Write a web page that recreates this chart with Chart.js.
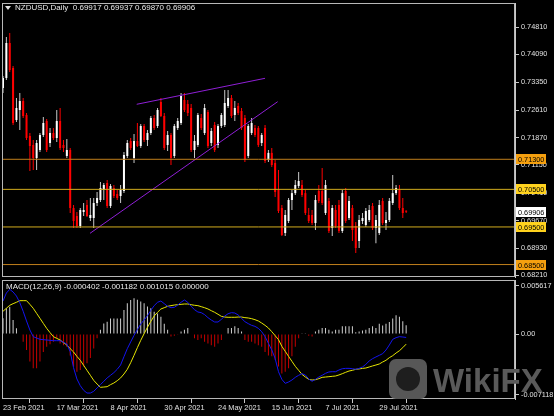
<!DOCTYPE html>
<html lang="en">
<head>
<meta charset="UTF-8" />
<title>NZDUSD Daily</title>
<script src="https://cdn.jsdelivr.net/npm/chart.js@4.4.0/dist/chart.umd.min.js"></script>
<style>
  body { margin: 0; background: #000; }
  #wrap { position: relative; width: 554px; height: 416px; background: #000; overflow: hidden; font-family: 'Liberation Sans', Arial, sans-serif; }
  #priceChart { position: absolute; left: 0; top: 0; }
  #macdChart { position: absolute; left: 0; top: 278px; }
  .txt { position: absolute; color: #e8e8e8; font-size: 8px; line-height: 10px; white-space: pre; }
  #title { left: 15px; top: 3px; }
  #arrow { position: absolute; left: 5px; top: 6px; width: 0; height: 0; border-left: 3px solid transparent; border-right: 3px solid transparent; border-top: 4px solid #e0e0e0; }
  #macdTitle { left: 6px; top: 282px; }
  #logoIcon { position: absolute; left: 389px; top: 359px; width: 38px; height: 40px; border-radius: 7px; background: #575757; }
  #logoIcon div { position: absolute; left: 7px; top: 8px; width: 24px; height: 24px; border-radius: 50%; background: #1e1e1e; }
  #logoText { position: absolute; left: 433px; top: 364px; font-size: 33px; line-height: 33px; font-weight: bold; color: #5a5a5a; }
</style>
</head>
<body>
<div id="wrap">
  <canvas id="priceChart" width="554" height="279"></canvas>
  <canvas id="macdChart" width="554" height="138"></canvas>
  <div id="arrow"></div>
  <div class="txt" id="title"></div>
  <div class="txt" id="macdTitle"></div>
  <div id="logoIcon"><div></div></div>
  <div id="logoText">WikiFX</div>
</div>

<script>
  // daily candles, 23 Feb 2021 .. 10 Aug 2021 (bar index = trading day)
  const open = [
    0.73196,0.73462,0.74393,0.73728,0.72345,0.72611,0.72850,0.72478,0.71919,0.71680,
    0.71334,0.71547,0.71946,0.72318,0.71733,0.71999,0.71866,0.72318,0.71680,0.71387,
    0.71547,0.70004,0.69791,0.69525,0.69898,0.70084,0.69738,0.69738,0.70137,0.70217,
    0.70483,0.70669,0.70057,0.70536,0.70377,0.70323,0.70456,0.71387,0.71786,0.71334,
    0.71786,0.71653,0.72185,0.71813,0.71999,0.72398,0.72185,0.72824,0.72451,0.71680,
    0.71946,0.71387,0.72132,0.72265,0.72877,0.72770,0.72664,0.71547,0.71680,0.72398,
    0.71999,0.72558,0.71733,0.72212,0.71680,0.72185,0.72212,0.72717,0.72930,0.72478,
    0.72717,0.72584,0.72398,0.71387,0.71999,0.72132,0.72132,0.71733,0.72132,0.71281,
    0.71470,0.71201,0.70483,0.70004,0.69339,0.69658,0.70217,0.70400,0.70590,0.70616,
    0.70400,0.69818,0.69818,0.69605,0.70456,0.70456,0.69871,0.70190,0.69472,0.69951,
    0.70084,0.69392,0.70456,0.69738,0.70004,0.69525,0.69126,0.69658,0.69552,0.69685,
    0.70057,0.69472,0.69339,0.70190,0.69605,0.69685,0.70137,0.70400,0.70483,0.70004,
    0.69917];
  const high = [
    0.73515,0.74553,0.74659,0.73781,0.72930,0.73063,0.72930,0.72531,0.71999,0.71813,
    0.71813,0.71999,0.72425,0.72372,0.72132,0.72132,0.72611,0.72664,0.71813,0.71840,
    0.71600,0.70084,0.69898,0.70004,0.70137,0.70217,0.70270,0.70270,0.70430,0.70696,
    0.70669,0.70749,0.70643,0.70616,0.70483,0.70616,0.71494,0.71813,0.71866,0.71973,
    0.72265,0.72239,0.72239,0.72079,0.72451,0.72478,0.72664,0.72930,0.72531,0.72052,
    0.71999,0.72239,0.72398,0.73063,0.73063,0.72877,0.72770,0.71946,0.72531,0.72505,
    0.72770,0.72611,0.72132,0.72292,0.72239,0.72531,0.73143,0.73143,0.73010,0.72850,
    0.72797,0.72664,0.72478,0.72239,0.72398,0.72212,0.72185,0.71999,0.72212,0.71547,
    0.71600,0.71281,0.71017,0.70084,0.69951,0.70270,0.70483,0.70749,0.70962,0.70749,
    0.70483,0.70004,0.69951,0.70350,0.70616,0.71068,0.70749,0.70270,0.70084,0.70084,
    0.70217,0.70483,0.70536,0.70323,0.70084,0.69632,0.69818,0.69871,0.70004,0.70084,
    0.70137,0.69818,0.70217,0.70270,0.69898,0.70270,0.70882,0.70616,0.70616,0.70270,
    0.69937];
  const low = [
    0.73063,0.73409,0.73622,0.72212,0.72292,0.72079,0.72398,0.71813,0.70989,0.71017,
    0.71017,0.71494,0.71893,0.71494,0.71627,0.71813,0.71760,0.71547,0.71494,0.71334,
    0.69871,0.69472,0.69472,0.69472,0.69791,0.69765,0.69658,0.69472,0.70057,0.70164,
    0.70217,0.70004,0.70004,0.70270,0.70217,0.70137,0.70403,0.71334,0.71547,0.71201,
    0.71627,0.71600,0.71759,0.71653,0.71946,0.72079,0.72132,0.72425,0.71547,0.71521,
    0.71148,0.71334,0.72079,0.72212,0.72558,0.72451,0.71494,0.71334,0.71627,0.72079,
    0.71946,0.71600,0.71653,0.71494,0.71600,0.72132,0.72159,0.72664,0.72398,0.72318,
    0.72478,0.72079,0.71228,0.71334,0.71946,0.71893,0.71627,0.71653,0.71201,0.71228,
    0.71095,0.70300,0.69871,0.69261,0.69261,0.69605,0.69951,0.70350,0.70536,0.70300,
    0.69818,0.69605,0.69552,0.69419,0.70137,0.70084,0.69818,0.69339,0.69261,0.69472,
    0.69339,0.69339,0.69605,0.69685,0.69126,0.68807,0.68940,0.69579,0.69499,0.69632,
    0.69419,0.69067,0.69286,0.69552,0.69419,0.69632,0.70084,0.70350,0.69951,0.69738,
    0.69870];
  const close = [
    0.73462,0.74393,0.73675,0.72265,0.72664,0.72850,0.72451,0.71866,0.71653,0.71334,
    0.71733,0.71946,0.72265,0.71547,0.71999,0.71866,0.72318,0.71600,0.71600,0.71547,
    0.70004,0.69658,0.69525,0.69951,0.69951,0.69791,0.69818,0.70137,0.70270,0.70536,
    0.70616,0.70057,0.70590,0.70323,0.70270,0.70483,0.71414,0.71733,0.71600,0.71786,
    0.71653,0.72185,0.71813,0.71999,0.72398,0.72132,0.72611,0.72451,0.71600,0.71946,
    0.71334,0.72185,0.72318,0.72983,0.72611,0.72531,0.71547,0.71786,0.72478,0.72132,
    0.72664,0.71653,0.72052,0.71547,0.72185,0.72478,0.72797,0.72930,0.72451,0.72664,
    0.72531,0.72132,0.71281,0.72185,0.72265,0.71946,0.71680,0.71946,0.71254,0.71470,
    0.71148,0.70430,0.69924,0.69286,0.69818,0.70217,0.70400,0.70616,0.70722,0.70350,
    0.69871,0.69658,0.69605,0.70217,0.70190,0.70137,0.70616,0.69392,0.70004,0.69525,
    0.69392,0.70400,0.69658,0.70190,0.69419,0.68940,0.69685,0.69738,0.69924,0.69951,
    0.69472,0.69685,0.70084,0.69605,0.69685,0.70190,0.70400,0.70536,0.70004,0.69871,
    0.69906];

  // MACD(12,26,9) panel
  const macdHist = [
    0.00183,0.00300,0.00319,0.00163,0.00066,0.00000,-0.00090,-0.00187,-0.00320,-0.00400,
    -0.00400,-0.00320,-0.00210,-0.00150,-0.00120,-0.00090,-0.00050,-0.00110,-0.00130,-0.00150,
    -0.00250,-0.00380,-0.00440,-0.00420,-0.00380,-0.00340,-0.00280,-0.00170,-0.00050,0.00050,
    0.00124,0.00143,0.00180,0.00180,0.00180,0.00180,0.00280,0.00358,0.00397,0.00416,
    0.00400,0.00380,0.00360,0.00320,0.00300,0.00260,0.00240,0.00200,0.00120,0.00050,
    -0.00030,-0.00020,-0.00010,0.00030,0.00050,0.00070,0.00000,-0.00050,-0.00070,-0.00050,
    -0.00090,-0.00110,-0.00130,-0.00150,-0.00110,-0.00070,0.00000,0.00070,0.00070,0.00090,
    0.00070,0.00030,-0.00070,-0.00090,-0.00090,-0.00110,-0.00130,-0.00150,-0.00210,-0.00250,
    -0.00260,-0.00300,-0.00380,-0.00460,-0.00440,-0.00400,-0.00260,-0.00150,-0.00050,0.00010,
    0.00010,-0.00020,-0.00030,0.00030,0.00050,0.00070,0.00070,0.00050,0.00030,0.00050,
    0.00050,0.00090,0.00090,0.00090,0.00090,0.00020,0.00030,0.00040,0.00050,0.00070,
    0.00090,0.00070,0.00120,0.00100,0.00120,0.00140,0.00180,0.00220,0.00200,0.00150,
    0.001015];
  const macdMain = [
    0.00385,0.00478,0.00521,0.00490,0.00443,0.00366,0.00265,0.00152,0.00047,-0.00031,
    -0.00047,-0.00062,-0.00066,-0.00070,-0.00074,-0.00078,-0.00078,-0.00078,-0.00097,-0.00117,
    -0.00206,-0.00393,-0.00525,-0.00603,-0.00657,-0.00689,-0.00689,-0.00669,-0.00630,-0.00591,
    -0.00552,-0.00513,-0.00482,-0.00451,-0.00412,-0.00362,-0.00265,-0.00171,-0.00093,-0.00016,
    0.00051,0.00117,0.00163,0.00214,0.00276,0.00331,0.00370,0.00385,0.00354,0.00323,
    0.00307,0.00311,0.00338,0.00370,0.00397,0.00370,0.00323,0.00284,0.00257,0.00249,
    0.00226,0.00191,0.00163,0.00140,0.00140,0.00171,0.00210,0.00237,0.00249,0.00245,
    0.00222,0.00183,0.00144,0.00121,0.00101,0.00089,0.00066,0.00027,-0.00031,-0.00109,
    -0.00187,-0.00284,-0.00440,-0.00529,-0.00576,-0.00560,-0.00537,-0.00506,-0.00482,-0.00463,
    -0.00478,-0.00525,-0.00552,-0.00529,-0.00502,-0.00482,-0.00459,-0.00443,-0.00440,-0.00440,
    -0.00420,-0.00405,-0.00401,-0.00401,-0.00405,-0.00412,-0.00401,-0.00385,-0.00354,-0.00315,
    -0.00288,-0.00268,-0.00249,-0.00230,-0.00187,-0.00128,-0.00062,-0.00043,-0.00031,-0.00035,
    -0.000402];
  const macdSignal = [
    0.00265,0.00300,0.00335,0.00354,0.00370,0.00389,0.00389,0.00389,0.00346,0.00300,
    0.00241,0.00183,0.00124,0.00066,0.00016,-0.00031,-0.00051,-0.00070,-0.00101,-0.00128,
    -0.00171,-0.00210,-0.00261,-0.00307,-0.00366,-0.00424,-0.00482,-0.00541,-0.00584,-0.00622,
    -0.00619,-0.00615,-0.00591,-0.00572,-0.00545,-0.00513,-0.00467,-0.00412,-0.00335,-0.00249,
    -0.00159,-0.00074,0.00004,0.00078,0.00148,0.00210,0.00253,0.00292,0.00307,0.00323,
    0.00331,0.00338,0.00342,0.00346,0.00350,0.00350,0.00342,0.00335,0.00331,0.00319,
    0.00307,0.00292,0.00272,0.00253,0.00230,0.00206,0.00198,0.00195,0.00195,0.00195,
    0.00198,0.00198,0.00191,0.00187,0.00179,0.00167,0.00152,0.00128,0.00101,0.00070,
    0.00027,-0.00019,-0.00066,-0.00144,-0.00202,-0.00261,-0.00319,-0.00377,-0.00424,-0.00471,
    -0.00502,-0.00529,-0.00537,-0.00533,-0.00521,-0.00506,-0.00502,-0.00498,-0.00494,-0.00490,
    -0.00478,-0.00463,-0.00447,-0.00432,-0.00424,-0.00412,-0.00408,-0.00401,-0.00397,-0.00385,
    -0.00373,-0.00362,-0.00350,-0.00327,-0.00307,-0.00276,-0.00253,-0.00222,-0.00195,-0.00159,
    -0.001182];
  const macdZeroLevel = 0.000000;

  // axis ticks
  const priceTicks = [0.74810, 0.74090, 0.73350, 0.72610, 0.71870, 0.71150, 0.70410, 0.69670, 0.68930, 0.68210];
  const macdTicks = [0.005617, 0, -0.007118];
  const macdTickText = ['0.005617', '0.00', '-0.007118'];
  const dateTickIdx = [0, 16, 32, 48, 64, 80, 96, 112];
  const dateTickText = ['23 Feb 2021', '17 Mar 2021', '8 Apr 2021', '30 Apr 2021', '24 May 2021', '15 Jun 2021', '7 Jul 2021', '29 Jul 2021'];

  // drawn objects: horizontal levels and the wedge trend lines [barIndex, price]
  const levels = [0.71300, 0.70500, 0.69500, 0.68500];
  const upperTrend = [[39.8, 0.72763], [78.0, 0.73454]];
  const lowerTrend = [[25.9, 0.69331], [81.75, 0.72832]];

  const levelLineColor = ['#c07f1c', '#d2ac1e', '#d2ac1e', '#c07f1c'];
  const levelTagColor = ['#f5a00f', '#ffd21e', '#ffd21e', '#f5a00f'];
  const FONT = "'Liberation Sans', Arial, sans-serif";
  const X_MIN = -0.3, X_MAX = 152.4;
  const last = open.length - 1;

  document.getElementById('title').textContent =
    'NZDUSD,Daily  ' + [open[last], high[last], low[last], close[last]].map(v => v.toFixed(5)).join(' ');
  document.getElementById('macdTitle').textContent =
    'MACD(12,26,9) ' + [macdMain[last], macdSignal[last], macdHist[last]].map(v => v.toFixed(6)).join(' ') + ' ' + macdZeroLevel.toFixed(6);

  const framePlugin = {
    id: 'frame',
    afterDraw(chart) {
      const { ctx, chartArea: a } = chart;
      ctx.save();
      ctx.strokeStyle = '#b8b8b8';
      ctx.lineWidth = 1;
      ctx.strokeRect(Math.round(a.left) + 0.5, Math.round(a.top) + 0.5, Math.round(a.right - a.left) - 1, Math.round(a.bottom - a.top) - 1);
      ctx.restore();
    }
  };

  const tagPlugin = {
    id: 'tags',
    afterDraw(chart) {
      const { ctx } = chart;
      const y = chart.scales.y;
      const tags = levels.map((v, k) => ({ v, bg: levelTagColor[k] }));
      tags.push({ v: close[last], bg: '#ffffff' });
      ctx.save();
      ctx.font = '7.3px ' + FONT;
      ctx.textBaseline = 'middle';
      tags.forEach(t => {
        const py = Math.round(y.getPixelForValue(t.v));
        ctx.fillStyle = t.bg;
        ctx.fillRect(516, py - 5, 30, 10);
        ctx.fillStyle = '#000';
        ctx.fillText(t.v.toFixed(5), 518, py + 0.5);
      });
      ctx.restore();
    }
  };

  const bull = close.map((c, i) => c >= open[i]);

  new Chart(document.getElementById('priceChart'), {
    type: 'bar',
    data: {
      datasets: [
        ...levels.map((lv, k) => ({
          type: 'line', data: [{ x: X_MIN, y: lv }, { x: X_MAX, y: lv }],
          borderColor: levelLineColor[k], borderWidth: 1, pointRadius: 0
        })),
        { type: 'line', data: upperTrend.map(p => ({ x: p[0], y: p[1] })), borderColor: '#8f1fd6', borderWidth: 1, pointRadius: 0 },
        { type: 'line', data: lowerTrend.map(p => ({ x: p[0], y: p[1] })), borderColor: '#8f1fd6', borderWidth: 1, pointRadius: 0 },
        {
          data: open.map((o, i) => ({ x: i, y: [o, close[i]] })),
          backgroundColor: bull.map(b => b ? '#ffffff' : '#ff0000'),
          barThickness: 2, minBarLength: 1
        },
        {
          data: low.map((l, i) => ({ x: i, y: [l, high[i]] })),
          backgroundColor: bull.map(b => b ? '#c8c8c8' : '#ff0000'),
          barThickness: 1
        }
      ]
    },
    options: {
      responsive: false, animation: false, events: [],
      layout: { padding: { left: 2, top: 3, right: 0, bottom: 2 } },
      datasets: { bar: { grouped: false, inflateAmount: 0 } },
      plugins: { legend: { display: false }, tooltip: { enabled: false } },
      scales: {
        x: { type: 'linear', display: false, min: X_MIN, max: X_MAX, offset: false },
        y: {
          position: 'right', min: 0.681688, max: 0.754572,
          afterBuildTicks: s => { s.ticks = priceTicks.map(v => ({ value: v })); },
          afterFit: s => { s.width = 39; s.paddingTop = 0; s.paddingBottom = 0; },
          ticks: { color: '#e0e0e0', font: { size: 7.3, family: FONT }, padding: 2, callback: v => v.toFixed(5) },
          grid: { drawOnChartArea: false, color: '#c8c8c8', tickLength: 4 },
          border: { color: '#c8c8c8' }
        }
      }
    },
    plugins: [framePlugin, tagPlugin]
  });

  new Chart(document.getElementById('macdChart'), {
    type: 'bar',
    data: {
      datasets: [
        { type: 'line', data: macdMain.map((v, i) => ({ x: i, y: v })), borderColor: '#1414f0', borderWidth: 1, pointRadius: 0 },
        { type: 'line', data: macdSignal.map((v, i) => ({ x: i, y: v })), borderColor: '#e6e600', borderWidth: 1, pointRadius: 0 },
        {
          data: macdHist.map((v, i) => ({ x: i, y: v })),
          backgroundColor: macdHist.map(v => v >= 0 ? '#d0d0d0' : '#c80000'),
          barThickness: 1
        }
      ]
    },
    options: {
      responsive: false, animation: false, events: [],
      layout: { padding: { left: 2, top: 2, right: 0, bottom: 0 } },
      datasets: { bar: { grouped: false, inflateAmount: 0 } },
      plugins: { legend: { display: false }, tooltip: { enabled: false } },
      scales: {
        x: {
          type: 'linear', min: X_MIN, max: X_MAX, offset: false,
          afterBuildTicks: s => { s.ticks = dateTickIdx.map(v => ({ value: v })); },
          afterFit: s => { s.height = 17; s.paddingLeft = 0; s.paddingRight = 0; },
          ticks: { align: 'start', color: '#e0e0e0', font: { size: 7.4, family: FONT }, padding: 1, maxRotation: 0, autoSkip: false, callback: (v, i) => dateTickText[i] },
          grid: { drawOnChartArea: false, color: '#c8c8c8', tickLength: 4 },
          border: { display: false }
        },
        y: {
          position: 'right', min: -0.0075855, max: 0.006302,
          afterBuildTicks: s => { s.ticks = macdTicks.map(v => ({ value: v })); },
          afterFit: s => { s.width = 39; s.paddingTop = 0; s.paddingBottom = 0; },
          ticks: { color: '#e0e0e0', font: { size: 7.3, family: FONT }, padding: 2, callback: (v, i) => macdTickText[i] },
          grid: { drawOnChartArea: false, color: '#c8c8c8', tickLength: 4 },
          border: { color: '#c8c8c8' }
        }
      }
    },
    plugins: [framePlugin]
  });
</script>
</body>
</html>
